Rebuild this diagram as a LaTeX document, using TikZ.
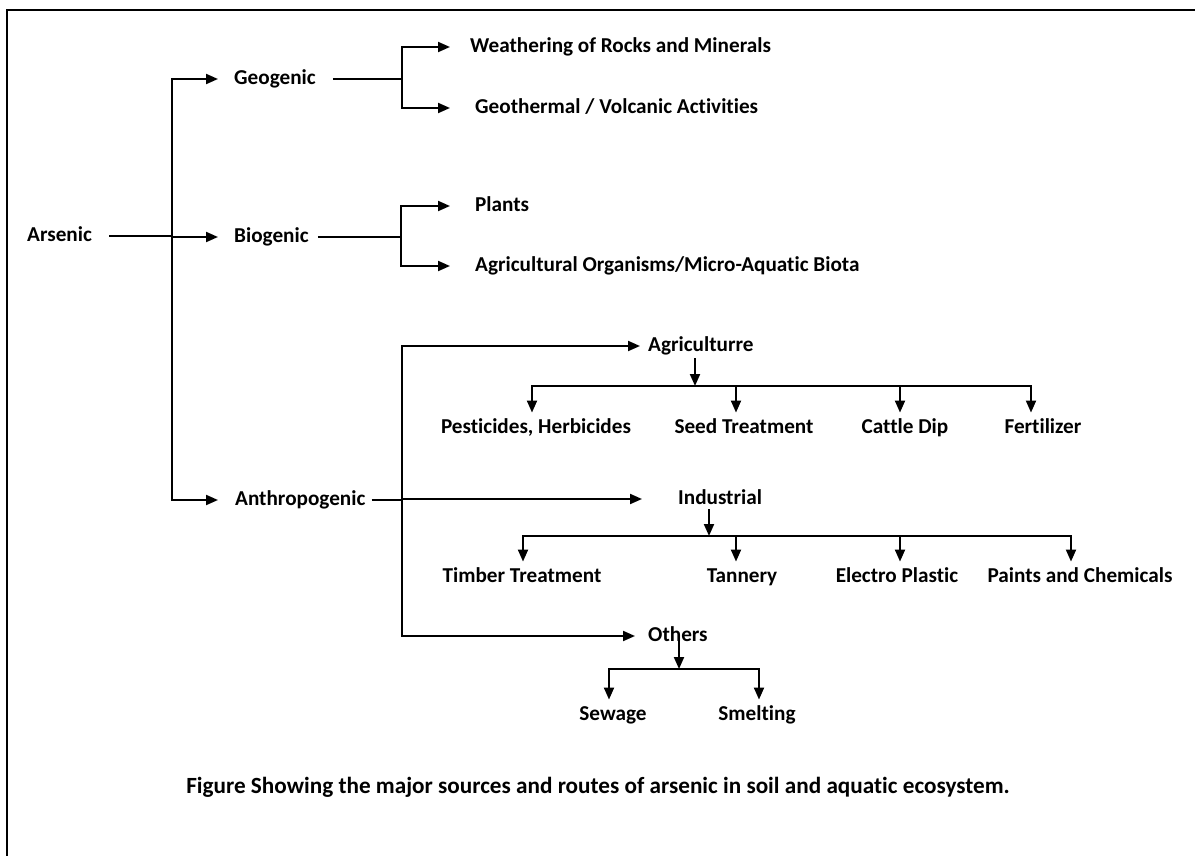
\documentclass[tikz,border=0pt]{standalone}
\usepackage{fontspec}
\setmainfont{Carlito}[Ligatures=NoCommon]
\usetikzlibrary{arrows.meta}
\begin{document}
\begin{tikzpicture}[x=1pt,y=-1pt]
        % Define styles
        \tikzset{
            txt/.style={font=\fontsize{21.2}{25}\selectfont\bfseries, inner sep=0pt, text height=16pt, text depth=4.5pt},
            branch/.style={txt, anchor=west},
            leaf/.style={txt},
            link/.style={line width=2pt},
            arrow/.style={link, -{Triangle[length=12pt,width=10pt]}}
        }
        \useasboundingbox (0,0) rectangle (1195,856);

        % Frame
        \draw[line width=1.5pt] (1195,10) -- (7,10) -- (7,856);

        % Nodes
        \node[branch] (arsenic) at (27,236) {Arsenic};
        \node[branch] (geo) at (234,79) {Geogenic};
        \node[branch] (bio) at (234,237) {Biogenic};
        \node[branch] (anthro) at (235,500) {Anthropogenic};

        \node[branch] (weather) at (470,47) {Weathering of Rocks and Minerals};
        \node[branch] (geotherm) at (475,108) {Geothermal / Volcanic Activities};
        \node[branch] (plants) at (475,206) {Plants};
        \node[branch] (agorg) at (475,266) {Agricultural Organisms/Micro-Aquatic Biota};

        \node[branch] (agri) at (648,346) {Agriculturre};
        \node[leaf] (pest) at (536,428) {Pesticides, Herbicides};
        \node[leaf] (seed) at (744,428) {Seed Treatment};
        \node[leaf] (cattle) at (905,428) {Cattle Dip};
        \node[leaf] (fert) at (1043,428) {Fertilizer};

        \node[branch] (indus) at (678,499) {Industrial};
        \node[leaf] (timber) at (522,577) {Timber Treatment};
        \node[leaf] (tannery) at (742,577) {Tannery};
        \node[leaf] (electro) at (897,577) {Electro Plastic};
        \node[leaf] (paints) at (1080,577) {Paints and Chemicals};

        \node[branch] (others) at (648,636) {Others};
        \node[leaf] (sewage) at (613,715) {Sewage};
        \node[leaf] (smelting) at (757,715) {Smelting};

        % Junctions
        \coordinate (trunk) at (172,0);
        \coordinate (geofork) at (402,0);
        \coordinate (biofork) at (401,0);
        \coordinate (afork) at (402,0);
        \coordinate (agribus) at (695,386);
        \coordinate (pestdrop) at (532,386);
        \coordinate (seeddrop) at (736,386);
        \coordinate (cattledrop) at (900,386);
        \coordinate (fertdrop) at (1031,386);
        \coordinate (indusbus) at (709,536);
        \coordinate (timberdrop) at (523,536);
        \coordinate (tannerydrop) at (736,536);
        \coordinate (electrodrop) at (900,536);
        \coordinate (paintsdrop) at (1071,536);
        \coordinate (othersbus) at (679,669);
        \coordinate (sewagedrop) at (609,669);
        \coordinate (smeltingdrop) at (759,669);

        % Arrows
        \draw[link] ([xshift=17pt]arsenic.east) -- (arsenic.east -| trunk);
        \draw[arrow] (trunk |- bio) -- (trunk |- geo) -- ([xshift=-16pt]geo.west);
        \draw[arrow] (trunk |- bio) -- ([xshift=-16pt]bio.west);
        \draw[arrow] (trunk |- bio) -- (trunk |- anthro) -- ([xshift=-17pt]anthro.west);

        \draw[link] ([xshift=17pt]geo.east) -- (geo -| geofork);
        \draw[arrow] (geo -| geofork) -- (geofork |- weather) -- ([xshift=-20pt]weather.west);
        \draw[arrow] (geo -| geofork) -- (geofork |- geotherm) -- ([xshift=-25pt]geotherm.west);

        \draw[link] ([xshift=9pt]bio.east) -- (bio -| biofork);
        \draw[arrow] (bio -| biofork) -- (biofork |- plants) -- ([xshift=-25pt]plants.west);
        \draw[arrow] (bio -| biofork) -- (biofork |- agorg) -- ([xshift=-25pt]agorg.west);

        \draw[link] ([xshift=6pt]anthro.east) -- (anthro -| afork);
        \draw[arrow] (afork |- indus) -- ([xshift=-36pt]indus.west);
        \draw[arrow] (afork |- indus) -- (afork |- agri) -- ([xshift=-8pt]agri.west);
        \draw[arrow] (afork |- indus) -- (afork |- others) -- ([xshift=-13pt]others.west);

        % Agriculture
        \draw[arrow, shorten <=2pt] (agribus |- agri.south) -- (agribus);
        \draw[arrow, shorten >=5pt] (agribus) -- (pestdrop) -- (pestdrop |- pest.north);
        \draw[arrow, shorten >=5pt] (agribus) -- (fertdrop) -- (fertdrop |- fert.north);
        \draw[arrow, shorten >=5pt] (seeddrop) -- (seeddrop |- seed.north);
        \draw[arrow, shorten >=5pt] (cattledrop) -- (cattledrop |- cattle.north);

        % Industrial
        \draw[arrow] (indusbus |- indus.south) -- (indusbus);
        \draw[arrow, shorten >=5pt] (indusbus) -- (timberdrop) -- (timberdrop |- timber.north);
        \draw[arrow, shorten >=5pt] (indusbus) -- (paintsdrop) -- (paintsdrop |- paints.north);
        \draw[arrow, shorten >=5pt] (tannerydrop) -- (tannerydrop |- tannery.north);
        \draw[arrow, shorten >=5pt] (electrodrop) -- (electrodrop |- electro.north);

        % Others
        \draw[arrow] (othersbus |- others) -- (othersbus);
        \draw[arrow, shorten >=5pt] (othersbus) -- (sewagedrop) -- (sewagedrop |- sewage.north);
        \draw[arrow, shorten >=5pt] (othersbus) -- (smeltingdrop) -- (smeltingdrop |- smelting.north);

        % Caption
        \node[txt, font=\fontsize{23.2}{27}\selectfont\bfseries] (caption) at (598,788) {Figure Showing the major sources and routes of arsenic in soil and aquatic ecosystem.};
    \end{tikzpicture}
\end{document}
